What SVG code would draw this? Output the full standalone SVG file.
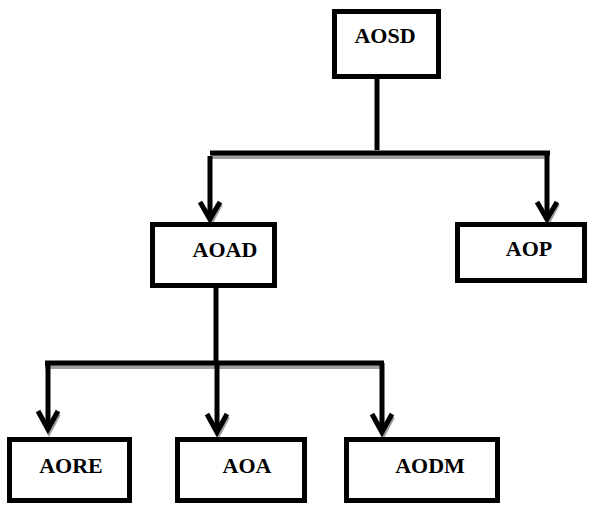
<svg xmlns="http://www.w3.org/2000/svg" width="590" height="506" viewBox="0 0 590 506">
<style>
.box{fill:#fff;stroke:#000;stroke-width:5}
.lbl{font-family:"Liberation Serif","Times New Roman",serif;font-weight:bold;font-size:22px;fill:#000;text-anchor:middle}
.sh{fill:none;stroke:#a0a0a0;stroke-width:4}
.ln{fill:none;stroke:#000;stroke-width:5}
.ah{fill:none;stroke:#000;stroke-width:5;stroke-linejoin:miter;stroke-linecap:butt}
.ahs{fill:none;stroke:#a0a0a0;stroke-width:4}
</style>
<rect width="590" height="506" fill="#fff"/>
<g id="connectors">
  <!-- shadows -->
  <line class="sh" x1="212" y1="157" x2="548" y2="157"/>
  <line class="sh" x1="45" y1="367" x2="384" y2="367"/>
  <path class="ahs" d="M201,204 L211,223 L221,204"/>
  <path class="ahs" d="M538,204 L548,223 L558,204"/>
  <path class="ahs" d="M39,414 L49,433 L59,414"/>
  <path class="ahs" d="M208,417 L218,436 L228,417"/>
  <path class="ahs" d="M373,417 L383,436 L393,417"/>
  <!-- top level -->
  <line class="ln" x1="377" y1="79" x2="377" y2="150"/>
  <line class="ln" x1="210" y1="153" x2="550" y2="153"/>
  <line class="ln" x1="210" y1="156" x2="210" y2="218"/>
  <path class="ah" d="M200,202 L210,219 L220,202"/>
  <line class="ln" x1="547" y1="153" x2="547" y2="218"/>
  <path class="ah" d="M537,202 L547,219 L557,202"/>
  <!-- second level -->
  <line class="ln" x1="216" y1="288" x2="216" y2="363"/>
  <line class="ln" x1="45" y1="363" x2="384" y2="363"/>
  <line class="ln" x1="48" y1="363" x2="48" y2="428"/>
  <path class="ah" d="M38,411 L48,429 L58,411"/>
  <line class="ln" x1="217" y1="363" x2="217" y2="431"/>
  <path class="ah" d="M207,414 L217,432 L227,414"/>
  <line class="ln" x1="382" y1="363" x2="382" y2="431"/>
  <path class="ah" d="M372,414 L382,432 L392,414"/>
</g>
<g id="AOSD">
  <rect class="box" x="334.5" y="11.5" width="104" height="65"/>
  <text class="lbl" x="385" y="43">AOSD</text>
</g>
<g id="AOAD">
  <rect class="box" x="152.5" y="224.5" width="122" height="61"/>
  <text class="lbl" x="225" y="257">AOAD</text>
</g>
<g id="AOP">
  <rect class="box" x="457.5" y="224.5" width="127" height="56"/>
  <text class="lbl" x="529" y="256">AOP</text>
</g>
<g id="AORE">
  <rect class="box" x="9.5" y="439.5" width="120" height="61"/>
  <text class="lbl" x="71" y="473">AORE</text>
</g>
<g id="AOA">
  <rect class="box" x="177.5" y="439.5" width="127" height="61"/>
  <text class="lbl" x="247" y="473">AOA</text>
</g>
<g id="AODM">
  <rect class="box" x="346.5" y="439.5" width="151" height="61"/>
  <text class="lbl" x="430" y="473">AODM</text>
</g>
</svg>
